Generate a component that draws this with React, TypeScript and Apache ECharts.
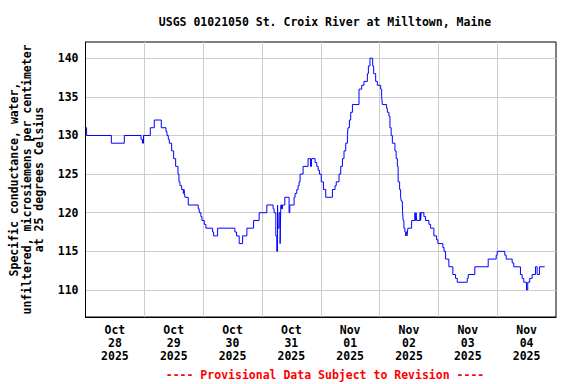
import React, { useEffect, useRef } from "react";
import * as echarts from "echarts";

const chartTitle = "USGS 01021050 St. Croix River at Milltown, Maine";
const yAxisTitle =
  "Specific conductance, water,\nunfiltered, microsiemens per centimeter\nat 25 degrees Celsius";
const footerText = "---- Provisional Data Subject to Revision ----";

const dayLabels = [
  "Oct\n28\n2025",
  "Oct\n29\n2025",
  "Oct\n30\n2025",
  "Oct\n31\n2025",
  "Nov\n01\n2025",
  "Nov\n02\n2025",
  "Nov\n03\n2025",
  "Nov\n04\n2025",
];

// hours since Oct 28 2025 00:00
const hoursSinceStart = [
  0, 0.45, 10.55, 15.85, 22.66, 23.27, 23.67, 26.44, 28.07, 30.93, 32.84, 33.25, 33.78, 34.19,
  35.16, 35.98, 36.79, 37.73, 38.14, 38.55, 39.24, 39.89, 40.18, 40.38, 40.58, 41.93, 46.0,
  46.41, 47.1, 47.51, 48.45, 49.14, 51.87, 52.28, 53.91, 60.96, 61.65, 62.71, 64.1, 65.85,
  68.58, 70.86, 74.0, 76.56, 76.97, 77.66, 78.07, 78.36, 78.6, 79.01, 79.42, 79.7, 79.99,
  80.39, 81.33, 83.08, 83.37, 85.12, 85.53, 86.22, 86.75, 87.16, 87.57, 88.79, 90.83, 91.84,
  92.25, 93.68, 94.37, 94.9, 95.47, 96.2, 97.1, 98.04, 100.77, 101.83, 102.32, 103.46, 104.15,
  104.84, 105.49, 106.19, 106.88, 107.12, 107.69, 108.22, 108.92, 111.61, 112.71, 113.64,
  115.03, 115.44, 116.09, 117.19, 117.6, 118.41, 119.1, 120.45, 120.86, 121.14, 122.89,
  123.18, 123.83, 124.24, 124.73, 125.22, 126.28, 126.76, 127.25, 127.58, 128.19, 128.6,
  128.88, 129.29, 129.41, 129.62, 129.94, 130.35, 130.64, 130.84, 131.17, 131.37, 131.57,
  133.08, 134.42, 134.63, 134.91, 135.12, 136.46, 136.75, 136.95, 138.09, 138.78, 140.13,
  140.82, 142.17, 143.27, 143.8, 145.83, 146.32, 146.94, 148.28, 149.91, 151.01, 151.7,
  155.78, 156.18, 158.87, 164.33, 167.59, 168.0, 171.1, 171.67, 174.11, 174.76, 177.49,
  178.19, 178.84, 179.94, 180.47, 181.28, 182.26, 183.61, 184.3, 185.24, 187.39,
];

const conductance = [
  131, 130, 129, 130, 129.5, 129, 130, 131, 132, 131, 130.5, 130, 129.5, 129,
  128, 127, 126, 125, 124, 123.5, 123, 122.5, 123, 122.5, 122, 121, 120.5,
  120, 119.5, 119, 118.5, 118, 117.5, 117, 118, 117.5, 117, 116, 117, 118,
  119, 120, 121, 120.5, 120, 117, 115, 121, 118, 120, 116, 121, 120.5,
  121, 122, 120, 121, 122, 122.5, 123, 123.5, 124, 125, 126, 127, 126,
  127, 126.5, 126, 125.5, 125, 124, 123, 122, 123, 123.5, 124, 125, 126,
  127, 128, 129, 130, 131, 132, 133, 134, 136, 136.5, 137,
  138, 139, 140, 139, 138, 137, 136.5, 136, 135, 134, 133.5,
  133, 132.5, 131, 130, 129, 128, 127, 126, 124, 123, 122,
  121.5, 121, 120, 119, 118, 117.5, 117, 117.5, 117, 117.5, 118,
  119, 120, 119, 120, 119, 120, 119, 120, 119.5, 119, 118.5,
  118, 117, 116.5, 116, 115.5, 115, 114, 113, 112, 111.5, 111,
  111.5, 112, 113, 114, 114.5, 115, 114.5, 114, 113.5, 113, 112,
  111.5, 111, 110, 111, 111.5, 112, 113, 112, 113, 113,
];

const FONT = "'DejaVu Sans Mono', monospace";

export default function App() {
  const ref = useRef<HTMLDivElement>(null);

  useEffect(() => {
    if (!ref.current) return;
    const chart = echarts.init(ref.current, null, { renderer: "svg" });
    const seriesData = hoursSinceStart.map((h, i) => [h, conductance[i]]);

    chart.setOption({
      animation: false,
      backgroundColor: "#ffffff",
      textStyle: { fontFamily: FONT, fontWeight: "bold", fontSize: 11.5, color: "#000" },
      title: [
        {
          text: chartTitle,
          left: 320,
          top: 11,
          textAlign: "center",
          textStyle: { fontFamily: FONT, fontWeight: "bold", fontSize: 11.5, color: "#000" },
        },
        {
          text: footerText,
          left: 320,
          top: 364,
          textAlign: "center",
          textStyle: { fontFamily: FONT, fontWeight: "bold", fontSize: 11.5, color: "#ff0000" },
        },
      ],
      grid: {
        left: 84,
        right: 20,
        top: 42,
        bottom: 67,
        show: true,
        borderColor: "#000",
        borderWidth: 1,
        backgroundColor: "#fff",
      },
      xAxis: [
        {
          type: "category",
          data: dayLabels,
          boundaryGap: true,
          axisLine: { show: true, lineStyle: { color: "#000", width: 1 } },
          axisTick: { show: false },
          axisLabel: {
            interval: 0,
            margin: 6,
            lineHeight: 13,
            fontFamily: FONT,
            fontWeight: "bold",
            fontSize: 11.5,
            color: "#000",
          },
          splitLine: {
            show: true,
            interval: 0,
            showMinLine: false,
            showMaxLine: false,
            lineStyle: { color: "#cccccc", width: 1 },
          },
        },
        {
          type: "value",
          min: 0,
          max: 192,
          show: false,
          splitLine: { show: false },
        },
      ],
      yAxis: {
        type: "value",
        min: 106.5,
        max: 142.1,
        minInterval: 5,
        maxInterval: 5,
        name: yAxisTitle,
        nameLocation: "middle",
        nameGap: 40,
        nameTextStyle: {
          fontFamily: FONT,
          fontWeight: "bold",
          fontSize: 11.5,
          lineHeight: 12.5,
          color: "#000",
          align: "center",
        },
        axisLine: { show: true, lineStyle: { color: "#000", width: 1 } },
        axisTick: { show: false },
        axisLabel: {
          margin: 7,
          fontFamily: FONT,
          fontWeight: "bold",
          fontSize: 11.5,
          color: "#000",
          formatter: (v: number) => (Math.abs(v % 5) < 1e-6 ? String(v) : ""),
        },
        splitLine: {
          show: true,
          showMinLine: false,
          showMaxLine: false,
          lineStyle: { color: "#cccccc", width: 1 },
        },
      },
      series: [
        {
          type: "line",
          xAxisIndex: 1,
          data: seriesData,
          step: "end",
          showSymbol: false,
          symbol: "none",
          lineStyle: { color: "#0000ff", width: 1 },
          z: 5,
        },
      ],
    });

    return () => chart.dispose();
  }, []);

  return (
    <div
      ref={ref}
      style={{ position: "fixed", left: 0, top: 0, width: 576, height: 384, background: "#fff" }}
    />
  );
}
